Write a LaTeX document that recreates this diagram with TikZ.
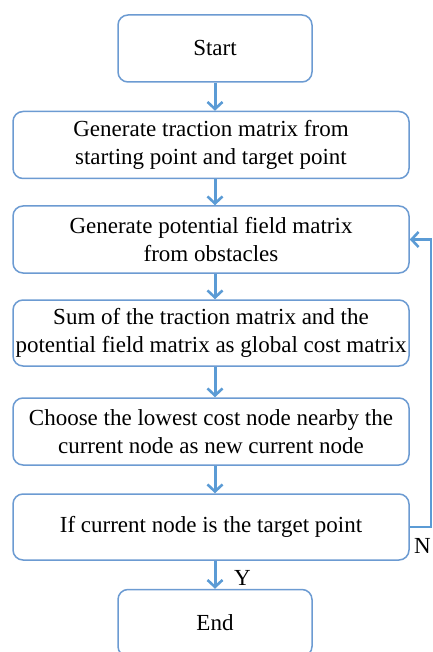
\documentclass[tikz,border=0pt]{standalone}
\usepackage{fontspec}
\setmainfont{Liberation Serif}
\usetikzlibrary{arrows.meta}
\definecolor{boxline}{HTML}{6C9BD2}
\definecolor{flow}{HTML}{5B9BD5}
\tikzset{
  stepbox/.style={draw=boxline, line width=1.5pt, rounded corners=10pt, fill=white,
    minimum width=396pt, minimum height=67pt, align=center, inner sep=0pt,
    font=\fontsize{23}{28}\selectfont},
  endbox/.style={stepbox, minimum width=194pt},
  flowarrow/.style={draw=flow, line width=3pt,
    -{Straight Barb[length=7pt,width=15pt,line width=2.6pt]}},
  lbl/.style={font=\fontsize{23}{28}\selectfont, inner sep=0pt}
}
\begin{document}
\begin{tikzpicture}[x=1pt,y=-1pt]
\useasboundingbox (0,0) rectangle (432,652);
\clip (0,0) rectangle (432,652);
\node[endbox] (start) at (215,48.5) {Start};
\node[stepbox] (trac) at (211,145) {Generate traction matrix from\\starting point and target point};
\node[stepbox] (pot) at (211,239.5) {Generate potential field matrix\\from obstacles};
\node[stepbox, minimum height=66pt] (sum) at (211,333) {Sum of the traction matrix and the\\potential field matrix as global cost matrix};
\node[stepbox] (choose) at (211,431.5) {Choose the lowest cost node nearby the\\current node as new current node};
\node[stepbox, minimum height=66pt] (check) at (211,527) {If current node is the target point};
\node[endbox] (end) at (215,623) {End};

\draw[flowarrow] (start.south) -- (start.south |- trac.north);
\draw[flowarrow] (trac.south -| start.south) -- (start.south |- pot.north);
\draw[flowarrow] (pot.south -| start.south) -- (start.south |- sum.north);
\draw[flowarrow] (sum.south -| start.south) -- (start.south |- choose.north);
\draw[flowarrow] (choose.south -| start.south) -- (start.south |- check.north);
\draw[flowarrow] (check.south -| start.south) -- (end.north);

\coordinate (loopbot) at ([xshift=21pt]check.east);
\coordinate (looptop) at ([xshift=21pt]pot.east);
\draw[flowarrow, line width=2.2pt] (check.east) -- (loopbot) -- (looptop) -- (pot.east);

\node[lbl, anchor=west] (yes) at (234,578) {Y};
\node[lbl, anchor=west] (no) at (414,546) {N};
\end{tikzpicture}
\end{document}
